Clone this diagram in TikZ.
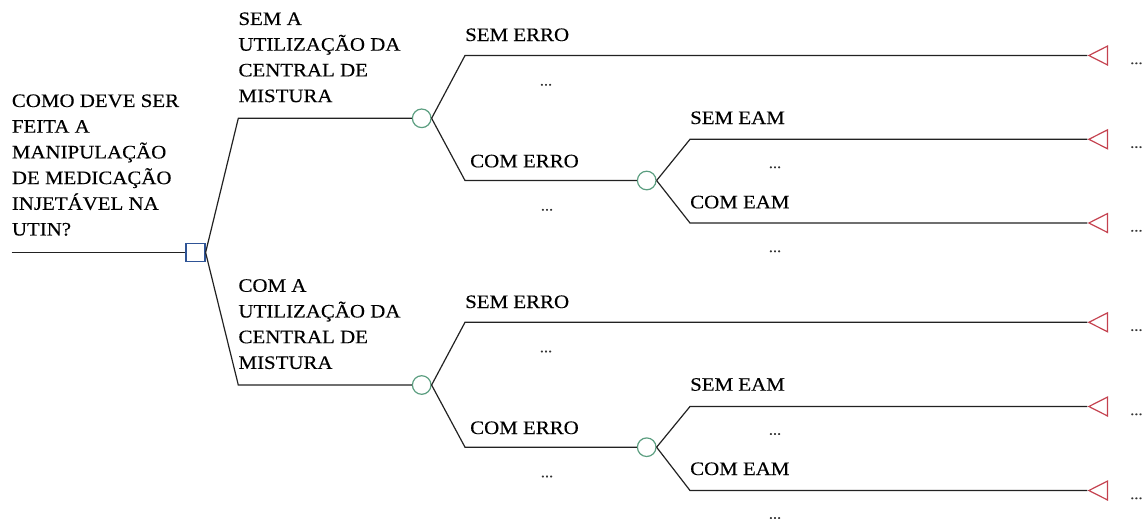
\documentclass[tikz,border=0pt]{standalone}
\usepackage{fontspec}
\setmainfont{Liberation Serif}[FakeStretch=1.1, FakeBold=0.3]
\usetikzlibrary{shapes.geometric}
\definecolor{decblue}{HTML}{2F5496}
\definecolor{chgreen}{HTML}{5B9E80}
\definecolor{endred}{HTML}{C4424F}
\definecolor{linegray}{HTML}{222222}

\begin{document}
\begin{tikzpicture}[x=1pt, y=-1pt,
	branch/.style={line width=1.2pt, linegray},
	decision/.style={draw=decblue, line width=1.2pt, fill=white, minimum width=19pt, minimum height=18pt, inner sep=0pt},
	chance/.style={circle, draw=chgreen, line width=1.2pt, fill=white, minimum size=18.6pt, inner sep=0pt},
	terminal/.style={isosceles triangle, isosceles triangle stretches, shape border rotate=180, draw=endred, line width=1.2pt, minimum width=19pt, minimum height=18.7pt, inner sep=0pt, anchor=apex},
	lbl/.style={inner sep=0pt, font=\fontsize{19}{25.7}\selectfont},
	stack/.style={lbl, align=left, anchor=north west},
	more/.style={inner sep=0pt, text=black!80, font=\fontsize{15}{17}\selectfont}]
	\useasboundingbox (0,0) rectangle (1142,523);

	\coordinate (start) at (11.7,252.5);
	\node[decision] (d) at (195.5,252.5) {};
	\draw[branch] (start) -- (d);

	\coordinate (a1) at (238.3,118.3);
	\node[chance] (c1) at (421.7,118.3) {};
	\coordinate (a2) at (465,55.5);
	\node[terminal] (t1) at (1087.3,55.5) {};
	\coordinate (a3) at (465,180.5);
	\node[chance] (c2) at (646.7,180.5) {};
	\coordinate (a4) at (690,139.3);
	\node[terminal] (t2) at (1087.3,139.3) {};
	\coordinate (a5) at (690,223);
	\node[terminal] (t3) at (1087.3,223) {};

	\draw[branch] (d.east) -- (a1) -- (c1);
	\draw[branch] (c1.east) -- (a2) -- (t1.apex);
	\draw[branch] (c1.east) -- (a3) -- (c2);
	\draw[branch] (c2.east) -- (a4) -- (t2.apex);
	\draw[branch] (c2.east) -- (a5) -- (t3.apex);

	\coordinate (b1) at (238.3,385);
	\node[chance] (c3) at (421.7,385) {};
	\coordinate (b2) at (465,322.3);
	\node[terminal] (t4) at (1087.3,322.3) {};
	\coordinate (b3) at (465,447.2);
	\node[chance] (c4) at (646.7,447.2) {};
	\coordinate (b4) at (690,406.5);
	\node[terminal] (t5) at (1087.3,406.5) {};
	\coordinate (b5) at (690,490.5);
	\node[terminal] (t6) at (1087.3,490.5) {};

	\draw[branch] (d.east) -- (b1) -- (c3);
	\draw[branch] (c3.east) -- (b2) -- (t4.apex);
	\draw[branch] (c3.east) -- (b3) -- (c4);
	\draw[branch] (c4.east) -- (b4) -- (t5.apex);
	\draw[branch] (c4.east) -- (b5) -- (t6.apex);

	\node[stack] (q) at (11.7,94.2) {COMO DEVE SER\\FEITA A\\MANIPULAÇÃO\\DE MEDICAÇÃO\\INJETÁVEL NA\\UTIN?};
	\node[stack] (o1) at (238.3,12.2) {SEM A\\UTILIZAÇÃO DA\\CENTRAL DE\\MISTURA};
	\node[stack] (o2) at (238.3,279) {COM A\\UTILIZAÇÃO DA\\CENTRAL DE\\MISTURA};

	\node[lbl, anchor=base west] (e1) at (465,41) {SEM ERRO};
	\node[lbl, anchor=base west] (e2) at (470,167.3) {COM ERRO};
	\node[lbl, anchor=base west] (m1) at (690,124) {SEM EAM};
	\node[lbl, anchor=base west] (m2) at (690,208.3) {COM EAM};
	\node[lbl, anchor=base west] (e3) at (465,308) {SEM ERRO};
	\node[lbl, anchor=base west] (e4) at (470,434) {COM ERRO};
	\node[lbl, anchor=base west] (m3) at (690,390.7) {SEM EAM};
	\node[lbl, anchor=base west] (m4) at (690,475) {COM EAM};

	\node[more, anchor=base] (p1) at (546,85.5) {...};
	\node[more, anchor=base] (p2) at (547,210.5) {...};
	\node[more, anchor=base] (p3) at (775,168) {...};
	\node[more, anchor=base] (p4) at (775,252) {...};
	\node[more, anchor=base] (p5) at (546,352.2) {...};
	\node[more, anchor=base] (p6) at (547,477.2) {...};
	\node[more, anchor=base] (p7) at (775,434.7) {...};
	\node[more, anchor=base] (p8) at (775,518.7) {...};

	\node[more, anchor=base west] (r1) at (1130,64) {...};
	\node[more, anchor=base west] (r2) at (1130,147.8) {...};
	\node[more, anchor=base west] (r3) at (1130,231.5) {...};
	\node[more, anchor=base west] (r4) at (1130,330.8) {...};
	\node[more, anchor=base west] (r5) at (1130,415) {...};
	\node[more, anchor=base west] (r6) at (1130,499) {...};
\end{tikzpicture}
\end{document}
